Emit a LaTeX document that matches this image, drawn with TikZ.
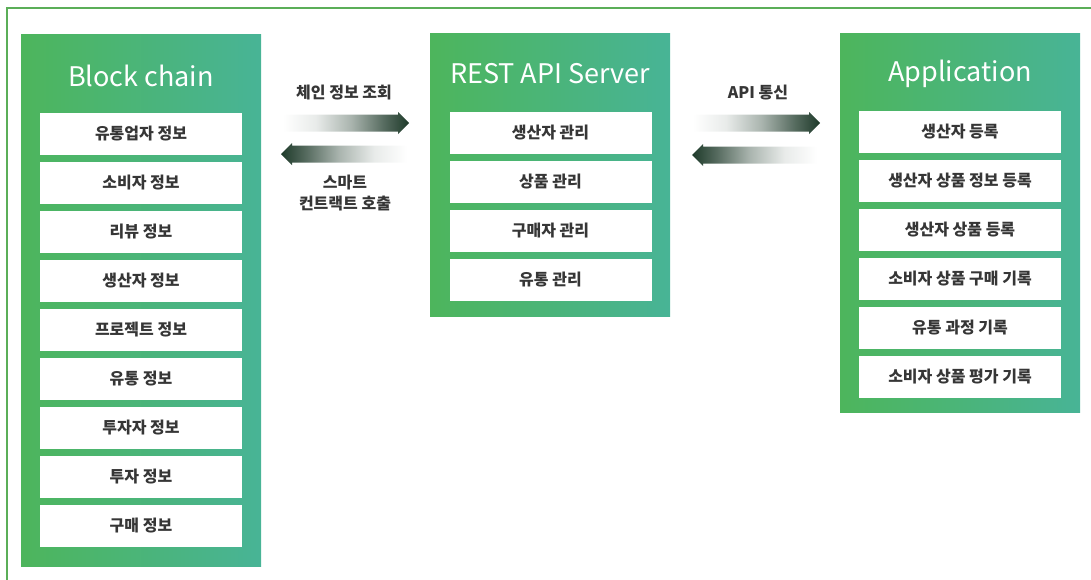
\documentclass[tikz,border=0pt]{standalone}
\usepackage{fontspec}
\setmainfont{Noto Sans CJK KR}
\usetikzlibrary{calc}
\definecolor{gA}{HTML}{4DB55C}
\definecolor{gB}{HTML}{48B496}
\definecolor{txt}{HTML}{363636}
\definecolor{darkg}{HTML}{1E3A2A}
\definecolor{framec}{HTML}{5BAE58}
\pgfdeclarehorizontalshading{fadeR}{100bp}{color(0bp)=(white); color(25bp)=(white); color(38bp)=(darkg!10!white); color(52bp)=(darkg!38!white); color(65bp)=(darkg!75!white); color(75bp)=(darkg); color(100bp)=(darkg)}
\pgfdeclarehorizontalshading{fadeL}{100bp}{color(0bp)=(darkg); color(25bp)=(darkg); color(35bp)=(darkg!75!white); color(48bp)=(darkg!38!white); color(62bp)=(darkg!10!white); color(75bp)=(white); color(100bp)=(white)}
\newcommand\gradarrowR[2]{% tail, tip : pointing right
  \path[shading=fadeR]
    ($(#1)+(0,-8.5)$) -- ($(#2)+(-11,-8.5)$) -- ($(#2)+(-11,-11)$) -- (#2)
    -- ($(#2)+(-11,11)$) -- ($(#2)+(-11,8.5)$) -- ($(#1)+(0,8.5)$) -- cycle;}
\newcommand\gradarrowL[2]{% tail, tip : pointing left
  \path[shading=fadeL]
    ($(#1)+(0,-8.5)$) -- ($(#2)+(11,-8.5)$) -- ($(#2)+(11,-11)$) -- (#2)
    -- ($(#2)+(11,11)$) -- ($(#2)+(11,8.5)$) -- ($(#1)+(0,8.5)$) -- cycle;}
\begin{document}
\begin{tikzpicture}[x=1pt,y=-1pt,
  panel/.style={left color=gA,right color=gB,draw=none,inner sep=0pt,anchor=north west,minimum width=240pt},
  header/.style={text=white,inner sep=0pt,font=\fontsize{27}{30}\selectfont},
  itembox/.style={fill=white,draw=none,inner sep=0pt,minimum width=202pt,minimum height=42pt,text=txt,font=\fontsize{16}{18}\selectfont\bfseries},
  lbl/.style={text=txt,inner sep=0pt,align=center,font=\fontsize{16}{21}\selectfont\bfseries}
]
\useasboundingbox (0,0) rectangle (1091,579);
\clip (0,0) rectangle (1091,579);
\draw[framec,line width=1.5pt] (7,8) rectangle (1130,620);

% panels
\node[panel,minimum height=532pt] (bc) at (21,34) {};
\node[panel,minimum height=283pt] (rs) at (430,33) {};
\node[panel,minimum height=379pt] (ap) at (840,33) {};

\node[header] (bch) at (141,76) {Block chain};
\node[header] (rsh) at (550,74) {REST API Server};
\node[header] (aph) at (960,74) {Application};

% block chain items
\node[itembox] (b1) at (141,133.5) {유통업자 정보};
\node[itembox] (b2) at (141,182.5) {소비자 정보};
\node[itembox] (b3) at (141,231.5) {리뷰 정보};
\node[itembox] (b4) at (141,280.5) {생산자 정보};
\node[itembox] (b5) at (141,329.5) {프로젝트 정보};
\node[itembox] (b6) at (141,378.5) {유통 정보};
\node[itembox] (b7) at (141,427.5) {투자자 정보};
\node[itembox] (b8) at (141,476.5) {투자 정보};
\node[itembox] (b9) at (141,525.5) {구매 정보};

% REST items
\node[itembox] (r1) at (550.5,133) {생산자 관리};
\node[itembox] (r2) at (550.5,182) {상품 관리};
\node[itembox] (r3) at (550.5,231) {구매자 관리};
\node[itembox] (r4) at (550.5,280) {유통 관리};

% application items
\node[itembox] (a1) at (960,132) {생산자 등록};
\node[itembox] (a2) at (960,181) {생산자 상품 정보 등록};
\node[itembox] (a3) at (960,230) {생산자 상품 등록};
\node[itembox] (a4) at (960,279) {소비자 상품 구매 기록};
\node[itembox] (a5) at (960,328) {유통 과정 기록};
\node[itembox] (a6) at (960,377) {소비자 상품 평가 기록};

% arrow end points
\coordinate (t1) at (283,123);   \coordinate (h1) at (409,123);
\coordinate (t2) at (407,154);   \coordinate (h2) at (281,154);
\coordinate (t3) at (693,123);   \coordinate (h3) at (820,123);
\coordinate (t4) at (817,155);   \coordinate (h4) at (692,155);
\gradarrowR{t1}{h1}
\gradarrowL{t2}{h2}
\gradarrowR{t3}{h3}
\gradarrowL{t4}{h4}

\node[lbl] (l1) at (344,93) {체인 정보 조회};
\node[lbl] (l2) at (345,193.5) {스마트\\컨트랙트 호출};
\node[lbl] (l3) at (758,93) {API 통신};
\end{tikzpicture}
\end{document}
